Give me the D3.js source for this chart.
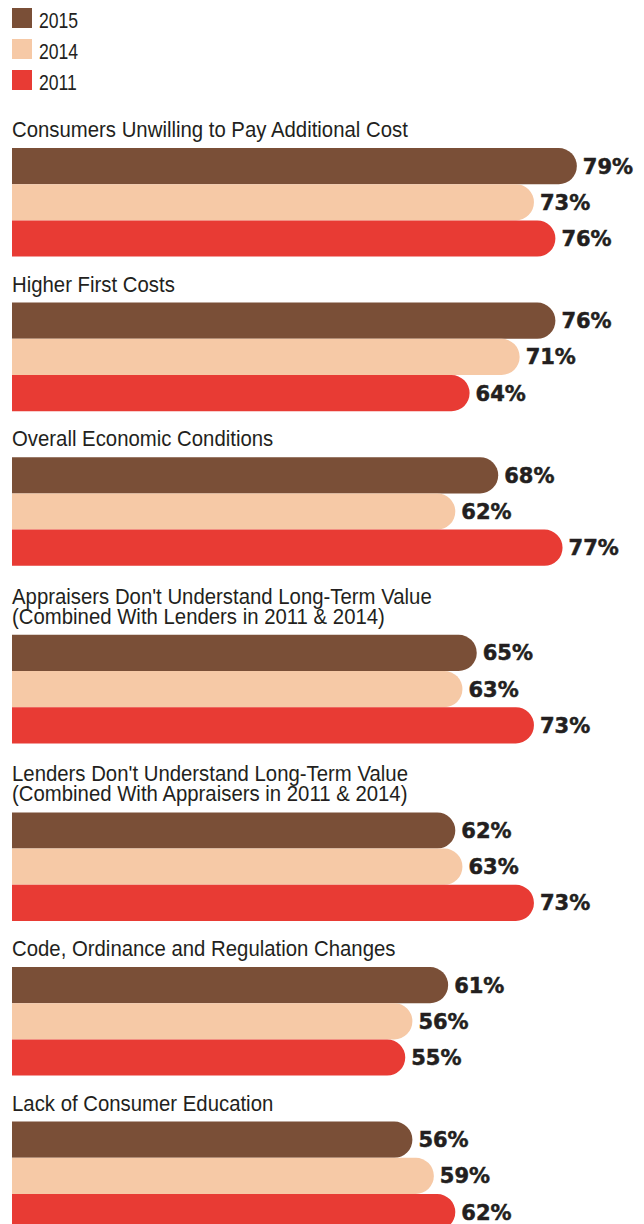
<!DOCTYPE html>
<html>
<head>
<meta charset="utf-8">
<script src="https://cdn.jsdelivr.net/npm/d3@7"></script>
<style>
  html, body { margin: 0; padding: 0; background: #fff; }
  svg { display: block; }
  .title, .legend-label { font-family: "Liberation Sans", Arial, sans-serif; fill: #231f20; }
  .value { font-family: "DejaVu Sans", sans-serif; font-weight: bold; fill: #231f20; stroke: #231f20; stroke-width: 0.5px; }
</style>
</head>
<body>
<script>
// Barriers to green building, share of respondents by survey year
const years = ["2015", "2014", "2011"];
const colors = ["#7a4f37", "#f6c9a6", "#e83b34"];

const categories = [
  ["Consumers Unwilling to Pay Additional Cost"],
  ["Higher First Costs"],
  ["Overall Economic Conditions"],
  ["Appraisers Don't Understand Long-Term Value", "(Combined With Lenders in 2011 & 2014)"],
  ["Lenders Don't Understand Long-Term Value", "(Combined With Appraisers in 2011 & 2014)"],
  ["Code, Ordinance and Regulation Changes"],
  ["Lack of Consumer Education"]
];

const values2015 = [79, 76, 68, 65, 62, 61, 56];
const values2014 = [73, 71, 62, 63, 63, 56, 59];
const values2011 = [76, 64, 77, 73, 73, 55, 62];

const series = [values2015, values2014, values2011];

const W = 644, H = 1224;
const left = 12;
const barH = 36.2;
const lineH = 20;
const titleGap = 11;
const groupGap = 46;
const firstTop = 148;
const titleSize = 22;
const titleStretch = 0.925;   // condensed face
const legendStretch = 0.8;

const svg = d3.select("body").append("svg")
  .attr("width", W).attr("height", H);

const x = d3.scaleLinear().domain([0, 100]).range([left, left + 715]);
const yBand = d3.scaleBand().domain(years).range([0, barH * years.length]).padding(0);

// Legend
const legend = svg.append("g").attr("class", "legend");
years.forEach((yr, i) => {
  const g = legend.append("g").attr("transform", `translate(${left},${8 + i * 31})`);
  g.append("rect").attr("width", 20).attr("height", 20).attr("fill", colors[i]);
  g.append("text").attr("class", "legend-label")
    .attr("transform", `translate(27,20) scale(${legendStretch},1)`)
    .style("font-size", "22px")
    .text(yr);
});

// Group layout: each group's bar block starts below its (possibly multi-line) title
const tops = [];
let t = firstTop;
categories.forEach((lines, i) => {
  if (i > 0) t += yBand.range()[1] + groupGap + (lines.length - 1) * (lineH + 3);
  tops.push(t);
});

function roundedRight(x0, y0, w, h) {
  const r = Math.min(h / 2, w);
  return `M${x0},${y0}H${x0 + w - r}A${r},${r} 0 0 1 ${x0 + w},${y0 + r}` +
         `V${y0 + h - r}A${r},${r} 0 0 1 ${x0 + w - r},${y0 + h}H${x0}Z`;
}

categories.forEach((lines, gi) => {
  const g = svg.append("g").attr("transform", `translate(0,${tops[gi]})`);
  lines.forEach((ln, li) => {
    const ty = -titleGap - (lines.length - 1 - li) * lineH;
    g.append("text").attr("class", "title")
      .attr("transform", `translate(${left},${ty}) scale(${titleStretch},1)`)
      .style("font-size", titleSize + "px")
      .text(ln);
  });
  years.forEach((yr, si) => {
    const v = series[si][gi];
    const y0 = yBand(yr);
    g.append("path")
      .attr("d", roundedRight(x(0), y0, x(v) - x(0), yBand.bandwidth()))
      .attr("fill", colors[si]);
    g.append("text").attr("class", "value")
      .attr("x", x(v) + 6)
      .attr("y", y0 + yBand.bandwidth() / 2)
      .attr("dy", "0.36em")
      .style("font-size", "21px")
      .text(v + "%");
  });
});
</script>
</body>
</html>
